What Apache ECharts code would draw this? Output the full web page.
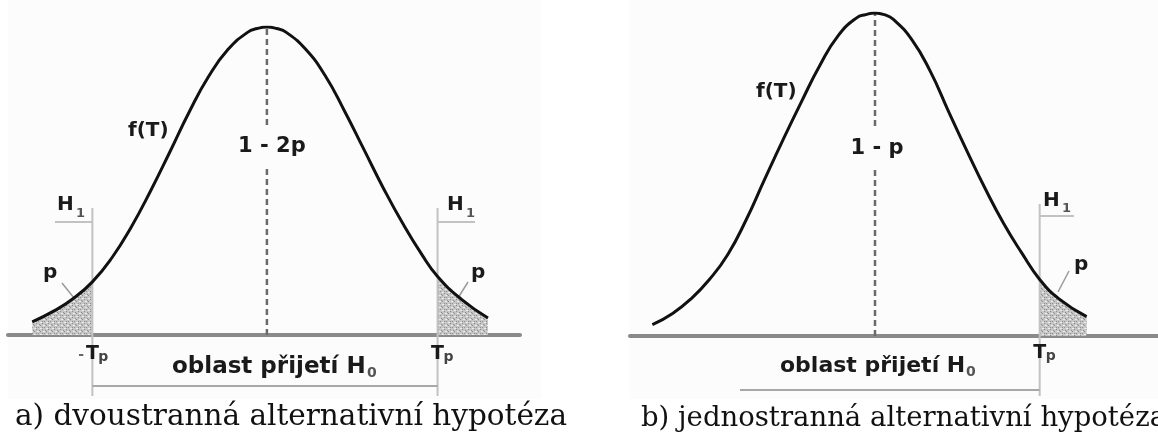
<!DOCTYPE html>
<html>
<head>
<meta charset="utf-8">
<script src="https://cdn.jsdelivr.net/npm/echarts@6/dist/echarts.min.js"></script>
<style>
  html, body { margin: 0; padding: 0; background: #fff; }
  #chart { width: 1158px; height: 439px; }
</style>
</head>
<body>
<div id="chart"></div>
<script>
// hodnoty: [T, f(T)]
const curveA = [
  [-2.42, 0.017], [-2.2, 0.031], [-2.0, 0.047], [-1.8, 0.069], [-1.6, 0.100],
  [-1.4, 0.140], [-1.2, 0.187], [-1.0, 0.238], [-0.8, 0.290], [-0.6, 0.336],
  [-0.4, 0.371], [-0.2, 0.393], [-0.1, 0.398], [0, 0.400], [0.1, 0.398], [0.2, 0.393], [0.4, 0.371],
  [0.6, 0.337], [0.8, 0.291], [1.0, 0.241], [1.2, 0.191], [1.4, 0.145],
  [1.6, 0.104], [1.76, 0.076], [2.0, 0.047], [2.28, 0.022]
]
const curveB = [
  [-2.42, 0.014], [-2.2, 0.028], [-2.0, 0.046], [-1.8, 0.070], [-1.6, 0.101],
  [-1.4, 0.144], [-1.2, 0.194], [-1.0, 0.243], [-0.8, 0.290], [-0.6, 0.335],
  [-0.4, 0.372], [-0.2, 0.394], [-0.1, 0.398], [0, 0.400], [0.1, 0.398], [0.2, 0.392], [0.4, 0.367],
  [0.6, 0.328], [0.8, 0.278], [1.0, 0.229], [1.2, 0.182], [1.4, 0.139],
  [1.6, 0.102], [1.79, 0.070], [2.0, 0.046], [2.3, 0.024]
]
const critA = [-1.80, 1.76]   // -Tp, Tp
const critB = [1.79]          // Tp
const centerT = 0

const labelsA = { curve: 'f(T)', middle: '1 - 2p', tail: 'p', region: 'oblast přijetí H' }
const labelsB = { curve: 'f(T)', middle: '1 - p', tail: 'p', region: 'oblast přijetí H' }
const captionA = 'a) dvoustranná alternativní hypotéza'
const captionB = 'b) jednostranná alternativní hypotéza'

// šrafování pro p
const hatch = document.createElement('canvas')
hatch.width = 6
hatch.height = 6
const hc = hatch.getContext('2d')
hc.fillStyle = '#c6c6c6'
hc.fillRect(0, 0, 6, 6)
hc.fillStyle = '#8e8e8e'
for (let i = 0; i < 6; i += 2) hc.fillRect(i, 5 - i, 1, 1)
hc.fillRect(3, 0, 1, 1)
hc.fillRect(0, 3, 1, 1)
hc.fillStyle = '#ececec'
hc.fillRect(1, 1, 2, 1)
hc.fillRect(4, 4, 2, 1)

const maxF = (arr) => Math.max(...arr.map(d => d[1]))

const curveSeries = (g, data) => ({
  type: 'line', xAxisIndex: g, yAxisIndex: g, data: data,
  smooth: 0.5, symbol: 'none', z: 5,
  lineStyle: { color: '#111', width: 3 }
})
const tailSeries = (g, data) => ({
  type: 'line', xAxisIndex: g, yAxisIndex: g, data: data,
  smooth: 0.5, symbol: 'none', z: 2,
  lineStyle: { width: 0 },
  areaStyle: { color: { image: hatch, repeat: 'repeat' }, opacity: 1 }
})
const centerSeries = (g, data) => ({
  type: 'line', xAxisIndex: g, yAxisIndex: g,
  data: [[centerT, 0], [centerT, maxF(data)]],
  symbol: 'none', z: 3,
  lineStyle: { color: '#6a6a6a', width: 2.5, type: [6, 4] }
})

const axisX = (g, min, max) => ({
  gridIndex: g, type: 'value', min: min, max: max,
  axisLine: { show: true, onZero: false, lineStyle: { color: '#8a8a8a', width: 4 } },
  axisTick: { show: false }, axisLabel: { show: false }, splitLine: { show: false }
})
const axisY = (g) => ({ gridIndex: g, type: 'value', min: 0, max: 0.4, show: false })

const chart = echarts.init(document.getElementById('chart'))

chart.setOption({
  animation: false,
  backgroundColor: '#fff',
  grid: [
    { left: 8, top: 27, width: 512, height: 308 },
    { left: 630, top: 13, width: 528, height: 323 }
  ],
  xAxis: [axisX(0, -2.67, 2.61), axisX(1, -2.663, 3.076)],
  yAxis: [axisY(0), axisY(1)],
  series: [
    tailSeries(0, curveA.filter(d => d[0] <= critA[0])),
    tailSeries(0, curveA.filter(d => d[0] >= critA[1])),
    tailSeries(1, curveB.filter(d => d[0] >= critB[0])),
    centerSeries(0, curveA),
    centerSeries(1, curveB),
    curveSeries(0, curveA),
    curveSeries(1, curveB)
  ]
})

const px = (g, t, f) => chart.convertToPixel({ gridIndex: g }, [t, f])

const font = (size, bold, fam) => (bold ? 'bold ' : '') + size + 'px ' + (fam || '"DejaVu Sans"')
const txt = (x, y, s, f, opt) => Object.assign({
  type: 'text', x: x, y: y, z: 100,
  style: Object.assign({
    text: s, font: f, fill: '#1a1a1a',
    textAlign: 'left', textVerticalAlign: 'middle', align: 'left', verticalAlign: 'middle'
  }, opt || {})
})
const ln = (x1, y1, x2, y2, color, w, z) => ({
  type: 'line', z: z || 4,
  shape: { x1: x1, y1: y1, x2: x2, y2: y2 },
  style: { stroke: color, lineWidth: w }
})
const rect = (x, y, w, h, color) => ({
  type: 'rect', z: -10, shape: { x: x, y: y, width: w, height: h }, style: { fill: color }
})
const center = { textAlign: 'center', align: 'center' }

const els = []
els.push(rect(8, 0, 533, 399, '#fcfcfc'))
els.push(rect(630, 0, 528, 399, '#fcfcfc'))

// --- a) ---
const xL = px(0, critA[0], 0)[0]
const xR = px(0, critA[1], 0)[0]
els.push(ln(xL, 208, xL, 396, '#c2c2c2', 2))
els.push(ln(xR, 208, xR, 396, '#c2c2c2', 2))
els.push(ln(55, 222, xL, 222, '#c2c2c2', 2))
els.push(ln(xR, 222, 475, 222, '#c2c2c2', 2))
els.push(ln(xL, 386, xR, 386, '#a8a8a8', 2))
els.push(ln(62, 283, 74, 298, '#9a9a9a', 1.5))
els.push(ln(468, 282, 458, 298, '#9a9a9a', 1.5))

els.push(txt(128, 131, labelsA.curve, font(20, true)))
els.push(txt(px(0, centerT, 0)[0] + 5, 147, labelsA.middle, font(21, true),
  Object.assign({ backgroundColor: '#fcfcfc', padding: [10, 3] }, center)))
els.push(txt(57, 205, 'H', font(20, true)))
els.push(txt(76, 214, '1', font(13, true), { fill: '#555' }))
els.push(txt(447, 205, 'H', font(20, true)))
els.push(txt(466, 214, '1', font(13, true), { fill: '#555' }))
els.push(txt(43, 273, labelsA.tail, font(20, true)))
els.push(txt(471, 273, labelsA.tail, font(20, true)))
els.push(txt(xL - 14, 355, '-', font(14, true), { fill: '#666' }))
els.push(txt(xL, 354, 'T', font(19, true), center))
els.push(txt(xL + 6, 357, 'p', font(14, true), { fill: '#444' }))
els.push(txt(xR, 354, 'T', font(19, true), center))
els.push(txt(xR + 6, 357, 'p', font(14, true), { fill: '#444' }))
els.push(txt(172, 367, labelsA.region, font(23, true)))
els.push(txt(367, 373, '0', font(14, true), { fill: '#555' }))

// --- b) ---
const xB = px(1, critB[0], 0)[0]
els.push(ln(xB, 204, xB, 396, '#c2c2c2', 2))
els.push(ln(xB, 216, 1074, 216, '#c2c2c2', 2))
els.push(ln(740, 390, xB, 390, '#a8a8a8', 2))
els.push(ln(1069, 271, 1058, 292, '#9a9a9a', 1.5))

els.push(txt(756, 92, labelsB.curve, font(20, true)))
els.push(txt(px(1, centerT, 0)[0] + 2, 149, labelsB.middle, font(21, true),
  Object.assign({ backgroundColor: '#fcfcfc', padding: [10, 3] }, center)))
els.push(txt(1043, 201, 'H', font(20, true)))
els.push(txt(1062, 209, '1', font(13, true), { fill: '#555' }))
els.push(txt(1074, 265, labelsB.tail, font(20, true)))
els.push(txt(xB, 353, 'T', font(19, true), center))
els.push(txt(xB + 6, 356, 'p', font(14, true), { fill: '#444' }))
els.push(txt(780, 366, labelsB.region, font(22, true)))
els.push(txt(966, 372, '0', font(14, true), { fill: '#555' }))

// popisky
els.push(txt(15, 417, captionA, font(29.5, false, '"DejaVu Serif"'), { fill: '#111' }))
els.push(txt(641, 419, captionB, font(27.5, false, '"DejaVu Serif"'), { fill: '#111' }))

chart.setOption({ graphic: { elements: els } })
</script>
</body>
</html>
